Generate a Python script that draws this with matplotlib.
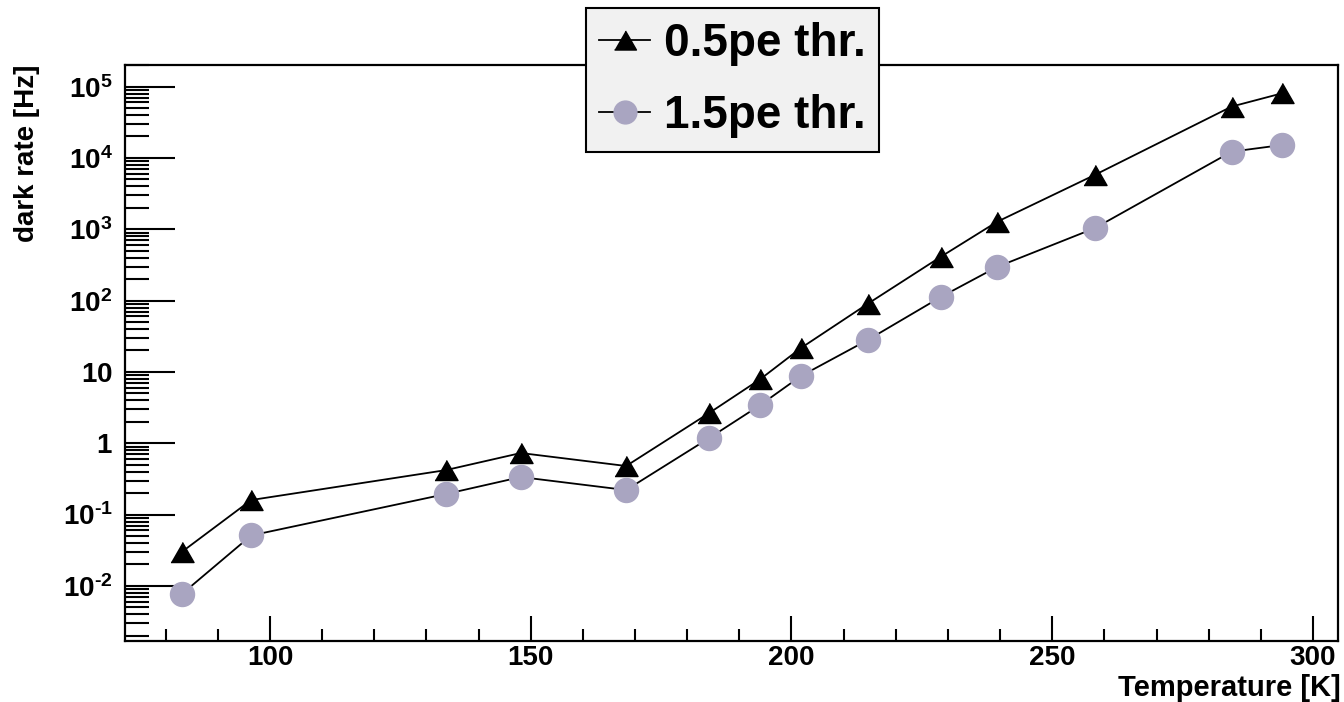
import matplotlib
matplotlib.use("Agg")
import matplotlib.pyplot as plt
import numpy as np
from matplotlib.ticker import FixedLocator, LogLocator, MultipleLocator, FuncFormatter, NullFormatter

plt.rcParams['font.family'] = ['Liberation Sans', 'DejaVu Sans']
plt.rcParams['mathtext.fontset'] = 'custom'
plt.rcParams['mathtext.rm'] = 'Liberation Sans:bold'
plt.rcParams['mathtext.bf'] = 'Liberation Sans:bold'
plt.rcParams['mathtext.it'] = 'Liberation Sans:bold'

temperature = [83.1, 96.4, 133.7, 148.1, 168.3, 184.2, 194.0, 201.8, 214.6, 228.6, 239.4, 258.2, 284.4, 294.1]
rate_05pe = [0.030, 0.16, 0.42, 0.73, 0.48, 2.65, 7.9, 21.6, 90, 410, 1270, 5800, 52500, 80700]
rate_15pe = [0.0077, 0.051, 0.194, 0.336, 0.221, 1.18, 3.43, 8.75, 28, 112, 296, 1040, 12250, 15200]
labels = ['0.5pe thr.', '1.5pe thr.']
xlabel = 'Temperature [K]'
ylabel = 'dark rate [Hz]'

fig = plt.figure(figsize=(13.44, 7.02), dpi=100)
ax = fig.add_axes([125/1344, 1-641/702, (1338-125)/1344, (641-65)/702])

tri = [(-1, -0.87), (1, -0.87), (0, 0.87)]
ax.plot(temperature, rate_05pe, color='black', lw=1.3, marker=tri, ms=16.6,
        mfc='black', mec='black', label=labels[0], zorder=3)
ax.plot(temperature, rate_15pe, color='black', lw=1.3, marker='o', ms=17.3,
        mfc='#a9a5c1', mec='#a9a5c1', label=labels[1], zorder=3)

ax.set_yscale('log')
ax.set_xlim(72.2, 304.8)
ax.set_ylim(1.69e-3, 2.01e5)

ax.xaxis.set_major_locator(MultipleLocator(50))
ax.xaxis.set_minor_locator(MultipleLocator(10))
ax.yaxis.set_major_locator(FixedLocator([1e-2, 1e-1, 1, 10, 1e2, 1e3, 1e4, 1e5]))
ax.yaxis.set_minor_locator(LogLocator(base=10, subs=np.arange(2, 10), numticks=50))
ax.yaxis.set_minor_formatter(NullFormatter())

def yfmt(v, pos):
    e = int(round(np.log10(v)))
    if e == 0:
        return r'$\mathbf{1}$'
    if e == 1:
        return r'$\mathbf{10}$'
    if e < 0:
        return r'$\mathbf{10^{\text{-}%d}}$' % (-e)
    return r'$\mathbf{10^{%d}}$' % e

ax.yaxis.set_major_formatter(FuncFormatter(yfmt))

ax.tick_params(axis='x', which='major', direction='in', length=18, width=1.5,
               labelsize=20, pad=3, top=False)
ax.tick_params(axis='x', which='minor', direction='in', length=9, width=1.5, top=False)
ax.tick_params(axis='y', which='major', direction='in', length=36, width=1.5,
               labelsize=20, pad=9, right=False)
ax.tick_params(axis='y', which='minor', direction='in', length=17, width=1.5, right=False)
for lab in ax.get_xticklabels():
    lab.set_fontweight('bold')

for s in ax.spines.values():
    s.set_linewidth(1.6)

ax.set_xlabel(xlabel, fontsize=21, fontweight='bold', loc='right')
ax.xaxis.set_label_coords(1.002, -0.057)
ax.set_ylabel(ylabel, fontsize=20, fontweight='bold', loc='top')
ax.yaxis.set_label_coords(-0.070, 1.0)

leg = fig.legend(loc='center', bbox_to_anchor=(732.5/1344, 1-80/702),
                 prop={'family': 'Liberation Sans', 'weight': 'bold', 'size': 33},
                 fancybox=False, edgecolor='black', facecolor='#f1f1f1', framealpha=1,
                 handlelength=1.11, handletextpad=0.3, labelspacing=0.62,
                 borderpad=0.3, borderaxespad=0, markerscale=0.95)
leg.get_frame().set_linewidth(1.5)

fig.savefig('out.png', dpi=100)
